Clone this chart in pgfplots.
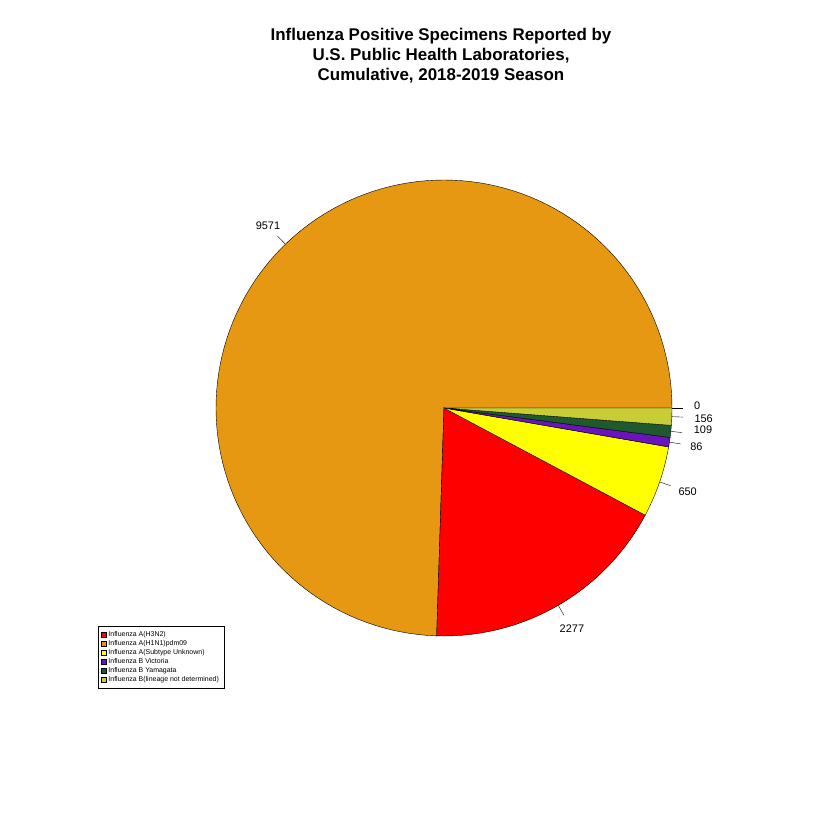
\documentclass[border=0pt]{standalone}
\usepackage{pgfplots}
\pgfplotsset{compat=1.18}
\usepgfplotslibrary{polar}
\usepackage{fontspec}
\setmainfont{Liberation Sans}
\definecolor{cOr}{RGB}{230,152,18}
\definecolor{cRe}{RGB}{255,0,0}
\definecolor{cYe}{RGB}{255,255,0}
\definecolor{cPu}{RGB}{106,20,190}
\definecolor{cGr}{RGB}{30,90,46}
\definecolor{cOl}{RGB}{200,204,53}
\begin{document}
\begin{tikzpicture}
\path (0bp,0bp) rectangle (840bp,840bp);
\node[font=\bfseries\fontsize{17}{20}\selectfont,align=center] at (441bp,784bp) {Influenza Positive Specimens Reported by\\U.S. Public Health Laboratories,\\ Cumulative, 2018-2019 Season};
\begin{polaraxis}[at={(444bp,432bp)},anchor=center,width=456bp,height=456bp,scale only axis,
  hide axis,ymin=0,ymax=1,xmin=0,xmax=360,clip=false,
  legend cell align=left,
  legend style={at={(-0.259,0.022)},anchor=north west,font=\fontsize{7}{8}\selectfont,draw=black,row sep=-1.5pt,inner xsep=3pt,inner ysep=3pt},
  legend image code/.code={\draw[#1,draw=black] (0pt,-2.5pt) rectangle (5pt,2.5pt);}]
\addplot[fill=cOr,draw=black,domain=0:268.16,samples=120,forget plot] {1} -- (axis cs:0,0) -- cycle;
\addplot[fill=cRe,draw=black,domain=268.16:331.96,samples=40,forget plot] {1} -- (axis cs:0,0) -- cycle;
\addplot[fill=cYe,draw=black,domain=331.96:350.17,samples=15,forget plot] {1} -- (axis cs:0,0) -- cycle;
\addplot[fill=cPu,draw=black,domain=350.17:352.58,samples=4,forget plot] {1} -- (axis cs:0,0) -- cycle;
\addplot[fill=cGr,draw=black,domain=352.58:355.63,samples=4,forget plot] {1} -- (axis cs:0,0) -- cycle;
\addplot[fill=cOl,draw=black,domain=355.63:360,samples=5,forget plot] {1} -- (axis cs:0,0) -- cycle;
% ticks
\addplot[black,forget plot] coordinates {(134.08,1) (134.08,1.05)};
\addplot[black,forget plot] coordinates {(300.06,1) (300.06,1.05)};
\addplot[black,forget plot] coordinates {(341.07,1) (341.07,1.05)};
\addplot[black,forget plot] coordinates {(351.38,1) (351.38,1.05)};
\addplot[black,forget plot] coordinates {(354.11,1) (354.11,1.05)};
\addplot[black,forget plot] coordinates {(357.82,1) (357.82,1.05)};
\addplot[black,forget plot] coordinates {(0,1) (0,1.05)};
\node[font=\fontsize{11}{12}\selectfont] at (axis cs:134.08,1.11) {9571};
\node[font=\fontsize{11}{12}\selectfont] at (axis cs:300.06,1.12) {2277};
\node[font=\fontsize{11}{12}\selectfont] at (axis cs:341.07,1.13) {650};
\node[font=\fontsize{11}{12}\selectfont] at (axis cs:351.38,1.12) {86};
\node[font=\fontsize{11}{12}\selectfont] at (axis cs:355.2,1.14) {109};
\node[font=\fontsize{11}{12}\selectfont] at (axis cs:357.6,1.14) {156};
\node[font=\fontsize{11}{12}\selectfont] at (axis cs:0.6,1.11) {0};
\addlegendimage{fill=cRe}\addlegendentry{Influenza A(H3N2)}
\addlegendimage{fill=cOr}\addlegendentry{Influenza A(H1N1)pdm09}
\addlegendimage{fill=cYe}\addlegendentry{Influenza A(Subtype Unknown)}
\addlegendimage{fill=cPu}\addlegendentry{Influenza B Victoria}
\addlegendimage{fill=cGr}\addlegendentry{Influenza B Yamagata}
\addlegendimage{fill=cOl}\addlegendentry{Influenza B(lineage not determined)}
\end{polaraxis}
\end{tikzpicture}
\end{document}
